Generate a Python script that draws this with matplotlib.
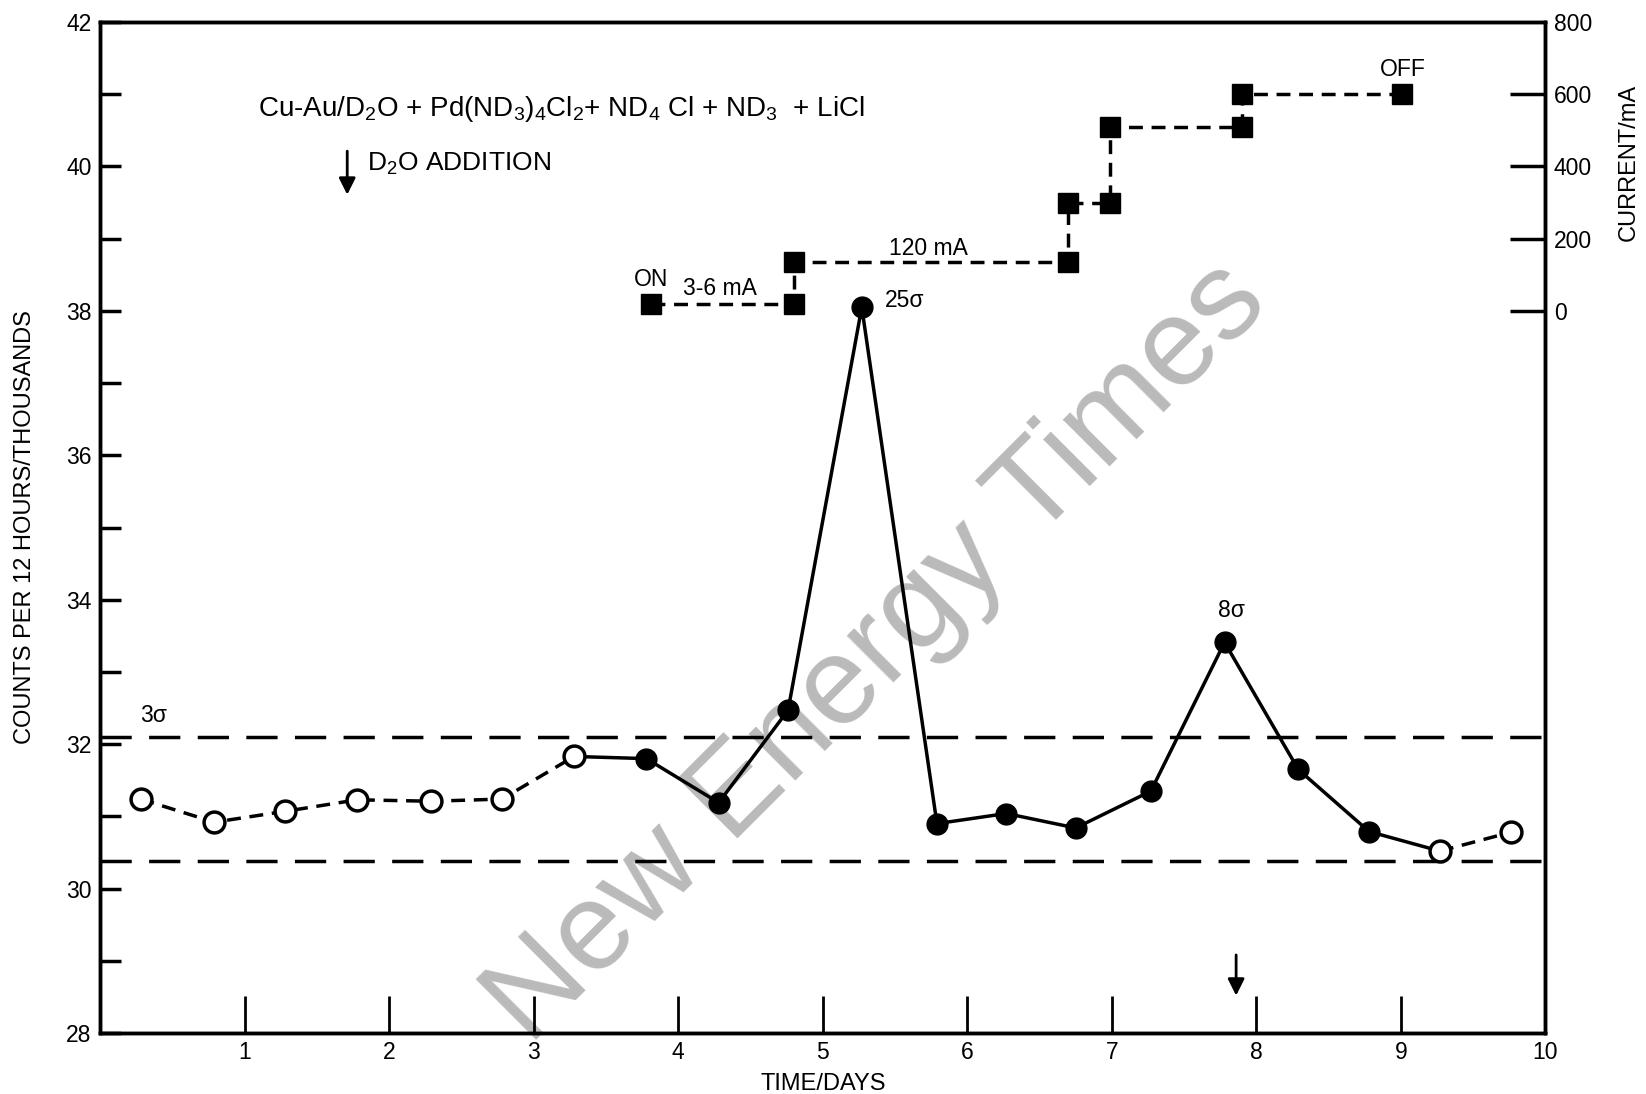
import matplotlib.pyplot as plt
import numpy as np

plt.rcParams['font.family'] = ['Liberation Sans', 'DejaVu Sans']
plt.rcParams['mathtext.fontset'] = 'custom'
plt.rcParams['mathtext.rm'] = 'Liberation Sans'

# counts per 12 hours (thousands)
days = [0.28, 0.79, 1.28, 1.78, 2.29, 2.78, 3.28, 3.78, 4.28, 4.76,
        5.27, 5.79, 6.27, 6.75, 7.27, 7.78, 8.29, 8.78, 9.27, 9.76]
counts = [31.24, 30.92, 31.07, 31.23, 31.21, 31.24, 31.83, 31.80, 31.19, 32.47,
          38.05, 30.90, 31.04, 30.84, 31.35, 33.41, 31.65, 30.79, 30.52, 30.78]
filled = [False] * 7 + [True] * 11 + [False] * 2

# cell current (mA)
cur_days = [3.81, 4.80, 4.80, 6.70, 6.70, 6.99, 6.99, 7.90, 7.90, 9.01]
cur_ma = [20, 20, 135, 135, 300, 300, 510, 510, 600, 600]

sigma3_hi = 32.1
sigma3_lo = 30.38

fig = plt.figure(figsize=(16.46, 10.94), dpi=100)
ax = fig.add_axes([0.0608, 0.0557, 0.8781, 0.9242])

# watermark, under the data
ax.text(0.533, 0.403, 'New Energy Times', fontsize=90, color='#bababa',
        rotation=45, ha='center', va='center', transform=fig.transFigure, zorder=1)

d = np.array(days)
c = np.array(counts)
f = np.array(filled)
ax.plot(d[:7], c[:7], '--', color='black', lw=2.5, dashes=(4, 2.5), zorder=2)
ax.plot(d[6:19], c[6:19], '-', color='black', lw=2.5, zorder=2)
ax.plot(d[18:], c[18:], '--', color='black', lw=2.5, dashes=(4, 2.5), zorder=2)
ax.plot(d[~f], c[~f], 'o', ms=15, mfc='white', mec='black', mew=2.5, ls='none', zorder=3)
ax.plot(d[f], c[f], 'o', ms=15, mfc='black', mec='black', ls='none', zorder=3)

ax.axhline(sigma3_hi, color='black', lw=2.5, dashes=(9, 5), zorder=2)
ax.axhline(sigma3_lo, color='black', lw=2.5, dashes=(9, 5), zorder=2)

ax.set_xlim(0, 10)
ax.set_ylim(28, 42)
ax.set_xticks(range(1, 11))
ax.set_xticklabels([str(i) for i in range(1, 10)] + ['10'])
ax.set_yticks(range(28, 43, 2))
ax.set_yticks(range(29, 42, 2), minor=True)
ax.tick_params(axis='y', which='both', direction='in', length=15, width=2.5,
               labelsize=16.5, pad=6)
ax.tick_params(axis='x', direction='in', length=27, width=2, labelsize=16.5, pad=6)
ax.xaxis.get_major_ticks()[-1].tick1line.set_visible(False)
for s in ax.spines.values():
    s.set_linewidth(2.5)

ax.set_xlabel('TIME/DAYS', fontsize=17, labelpad=6)
ax.set_ylabel('COUNTS PER 12 HOURS/THOUSANDS', fontsize=17, labelpad=22)

ax.text(0.28, 32.4, '3σ', fontsize=16.5, ha='left', va='center')
ax.text(5.43, 38.15, '25σ', fontsize=16.5, ha='left', va='center')
ax.text(7.83, 33.85, '8σ', fontsize=16.5, ha='center', va='center')

ax.text(1.09, 40.79,
        'Cu-Au/D$_2$O + Pd(ND$_3$)$_4$Cl$_2$+ ND$_4$ Cl + ND$_3$  + LiCl',
        fontsize=20, ha='left', va='center')
ax.text(1.85, 40.04, 'D$_2$O ADDITION', fontsize=19, ha='left', va='center')
ax.annotate('', xy=(1.71, 39.57), xytext=(1.71, 40.25),
            arrowprops=dict(arrowstyle='-|>', color='black', lw=2,
                            mutation_scale=25))
ax.annotate('', xy=(7.86, 28.48), xytext=(7.86, 29.12),
            arrowprops=dict(arrowstyle='-|>', color='black', lw=2,
                            mutation_scale=25))

# current on right axis
ax2 = ax.twinx()
ax2.set_ylim(-2000, 800)
ax2.set_yticks([0, 200, 400, 600, 800])
ax2.tick_params(axis='y', direction='in', length=25, width=2.5, labelsize=16.5, pad=6)
ax2.yaxis.get_major_ticks()[-1].tick2line.set_visible(False)
ax2.plot(cur_days, cur_ma, color='black', lw=2.5, dashes=(4, 2.5))
ax2.plot(cur_days, cur_ma, 's', color='black', ms=15, ls='none')
ax2.set_ylabel('CURRENT/mA', fontsize=17)
ax2.yaxis.set_label_coords(1.05, 0.861)
for s in ax2.spines.values():
    s.set_linewidth(2.5)

ax2.text(3.81, 87, 'ON', fontsize=16.5, ha='center', va='center')
ax2.text(4.29, 62, '3-6 mA', fontsize=16.5, ha='center', va='center')
ax2.text(5.73, 174, '120 mA', fontsize=16.5, ha='center', va='center')
ax2.text(9.01, 668, 'OFF', fontsize=16.5, ha='center', va='center')

fig.savefig('out.png', dpi=100)
